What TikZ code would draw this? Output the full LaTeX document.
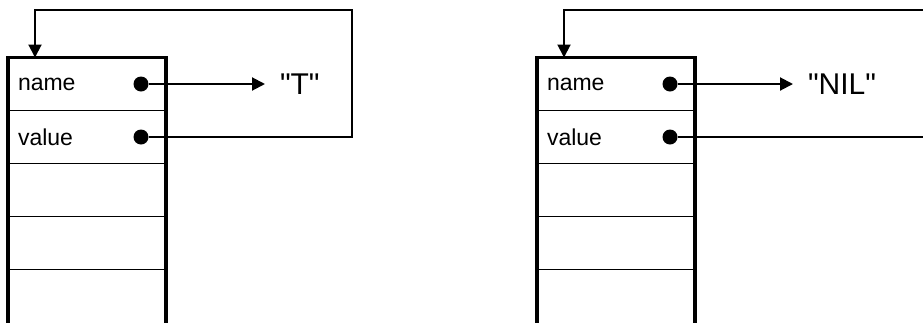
\documentclass[tikz,border=0pt]{standalone}
\usepackage{fontspec}
\setmainfont{Liberation Sans}[Ligatures=TeXOff]
\usetikzlibrary{positioning,arrows.meta}

\tikzset{
    cell/.style={draw, line width=1.3pt, minimum width=158pt, minimum height=53pt,
        text width=138pt, align=left, inner xsep=10pt, inner ysep=0pt, outer sep=0pt,
        font=\fontsize{23}{27}\selectfont},
    frame/.style={line width=3.2pt},
    dot/.style={circle, fill=black, minimum size=15pt, inner sep=0pt},
    str/.style={anchor=west, inner xsep=15pt, inner ysep=0pt, outer sep=0pt,
        font=\fontsize{30}{34}\selectfont},
    link/.style={line width=2pt, -{Triangle[length=13pt, width=13pt]}}
}

\begin{document}
\begin{tikzpicture}[x=1pt, y=-1pt]
    \useasboundingbox (0,0) rectangle (923,322);
    \clip (0,0) rectangle (923,322);

    % 符号 T
    \node[cell] (tname) at (87,84) {name};
    \node[cell, below=0pt of tname] (tvalue) {value};
    \node[cell, below=0pt of tvalue] (tfreea) {};
    \node[cell, below=0pt of tfreea] (tfreeb) {};
    \node[cell, below=0pt of tfreeb, minimum height=75pt] (tfreec) {};
    \draw[frame] (tname.north west) rectangle (tfreec.south east);

    \node[dot] (tnamedot) at ([xshift=-25pt]tname.east) {};
    \node[dot] (tvaluedot) at ([xshift=-25pt]tvalue.east) {};
    \node[str] (tstr) at (265,84) {"T"};
    \coordinate (tloop) at (352,10);
    \coordinate (tin) at ([xshift=27pt]tname.north west);

    \draw[link] (tnamedot) -- (tstr);
    \draw[link] (tvaluedot) -| (tloop) -| (tin);

    % 符号 NIL
    \node[cell] (nname) at (616,84) {name};
    \node[cell, below=0pt of nname] (nvalue) {value};
    \node[cell, below=0pt of nvalue] (nfreea) {};
    \node[cell, below=0pt of nfreea] (nfreeb) {};
    \node[cell, below=0pt of nfreeb, minimum height=75pt] (nfreec) {};
    \draw[frame] (nname.north west) rectangle (nfreec.south east);

    \node[dot] (nnamedot) at ([xshift=-25pt]nname.east) {};
    \node[dot] (nvaluedot) at ([xshift=-25pt]nvalue.east) {};
    \node[str] (nstr) at (793,84) {"NIL"};
    \coordinate (nloop) at (945,10);
    \coordinate (nin) at ([xshift=27pt]nname.north west);

    \draw[link] (nnamedot) -- (nstr);
    \draw[link] (nvaluedot) -| (nloop) -| (nin);
\end{tikzpicture}
\end{document}
